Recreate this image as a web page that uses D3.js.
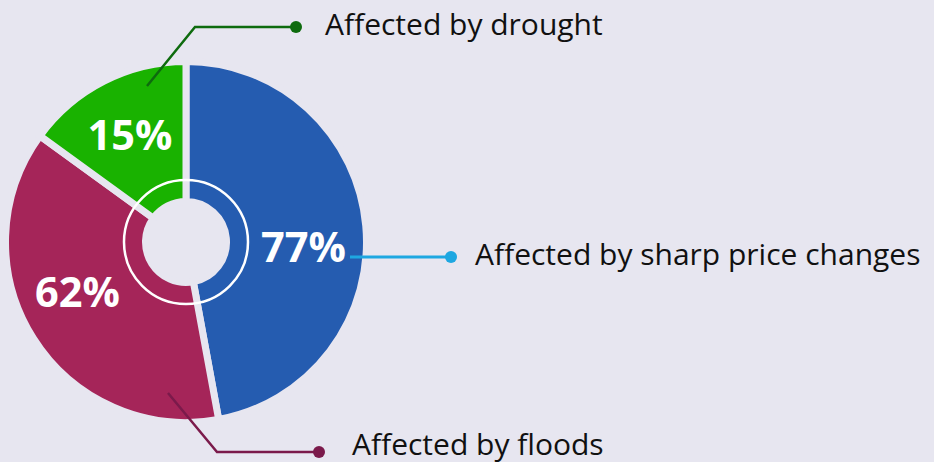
<!DOCTYPE html>
<html>
<head>
<meta charset="utf-8">
<script src="https://cdn.jsdelivr.net/npm/d3@7"></script>
<style>
  body { margin: 0; background: #e7e6f0; }
  svg { display: block; }
  text { font-family: "Open Sans", sans-serif; }
</style>
</head>
<body>
<svg id="chart" width="934" height="462"></svg>
<script>
// categories, clockwise from 12 o'clock
const categories = ["Affected by sharp price changes", "Affected by floods", "Affected by drought"];
// percentages printed on the slices
const percents = [77, 62, 15];
// share of the circle each slice takes in the picture (%)
const sliceShare = [47.1, 37.9, 15];
const colors = ["#255cb0", "#a52559", "#19b200"];
const leaderColors = ["#1ea7e1", "#7b1a4b", "#0e6b0e"];

const bg = "#e7e6f0";
const svg = d3.select("#chart");
const W = 934, H = 462;
const cx = 186, cy = 242;
const rOuter = 177, rInner = 44, rRing = 62, gap = 7;

svg.append("rect").attr("width", W).attr("height", H).attr("fill", bg);

const pie = d3.pie().sort(null).value(d => d.share);
const data = categories.map((c, i) => ({name: c, pct: percents[i], share: sliceShare[i], i: i}));
const arcs = pie(data);

const arc = d3.arc()
    .innerRadius(rInner - gap / 2)
    .outerRadius(rOuter + gap / 2);

const g = svg.append("g").attr("transform", "translate(" + cx + "," + cy + ")");

g.selectAll("path.slice")
    .data(arcs)
    .enter().append("path")
    .attr("class", "slice")
    .attr("d", arc)
    .attr("fill", d => colors[d.data.i])
    .attr("stroke", bg)
    .attr("stroke-width", gap)
    .attr("stroke-linejoin", "miter");

// thin white ring inside the donut
g.append("circle")
    .attr("r", rRing)
    .attr("fill", "none")
    .attr("stroke", "#fff")
    .attr("stroke-width", 2.5);

// where the percentage labels sit, relative to the centre (baseline)
const labelPos = [[117.5, 20], [-108.5, 65], [-56, -92]];
g.selectAll("text.pct")
    .data(arcs)
    .enter().append("text")
    .attr("class", "pct")
    .attr("x", d => labelPos[d.data.i][0])
    .attr("y", d => labelPos[d.data.i][1])
    .attr("text-anchor", "middle")
    .attr("fill", "#fff")
    .attr("font-weight", "bold")
    .attr("font-size", 41.5)
    .text(d => d.data.pct + "%");

// leader lines: inner point, elbow, dot (page coords)
const leaders = [
    {pts: [[350, 257], [451, 257]], label: [475, 265]},
    {pts: [[168, 393], [217, 452], [319, 452]], label: [352, 455]},
    {pts: [[147, 86], [195, 27], [296, 27]], label: [325, 35]}
];
const line = d3.line();
leaders.forEach((l, i) => {
    svg.append("path")
        .attr("d", line(l.pts))
        .attr("fill", "none")
        .attr("stroke", leaderColors[i])
        .attr("stroke-width", i === 0 ? 3 : 2.5);
    const end = l.pts[l.pts.length - 1];
    svg.append("circle")
        .attr("cx", end[0]).attr("cy", end[1]).attr("r", 6)
        .attr("fill", leaderColors[i]);
    svg.append("text")
        .attr("x", l.label[0]).attr("y", l.label[1])
        .attr("fill", "#111")
        .attr("font-size", 30)
        .text(categories[i]);
});
</script>
</body>
</html>
